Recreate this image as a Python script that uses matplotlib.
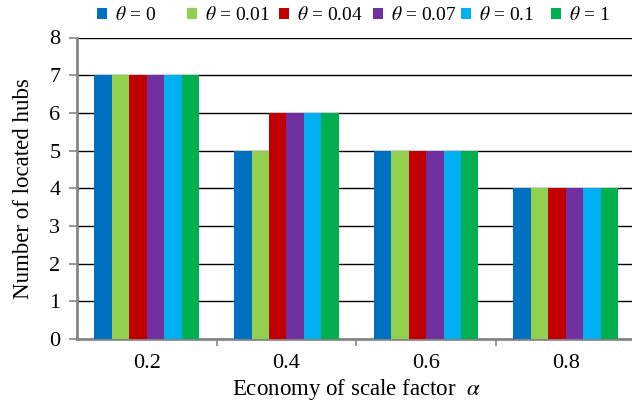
import numpy as np
import matplotlib.pyplot as plt
from matplotlib.patches import Patch

plt.rcParams['font.family'] = 'Liberation Serif'
plt.rcParams['mathtext.fontset'] = 'stix'

alpha_labels = ["0.2", "0.4", "0.6", "0.8"]
theta_labels = [r"$\theta$ = 0", r"$\theta$ = 0.01", r"$\theta$ = 0.04",
                r"$\theta$ = 0.07", r"$\theta$ = 0.1", r"$\theta$ = 1"]
hubs_theta_0 = [7, 5, 5, 4]
hubs_theta_001 = [7, 5, 5, 4]
hubs_theta_004 = [7, 6, 5, 4]
hubs_theta_007 = [7, 6, 5, 4]
hubs_theta_01 = [7, 6, 5, 4]
hubs_theta_1 = [7, 6, 5, 4]
series = [hubs_theta_0, hubs_theta_001, hubs_theta_004,
          hubs_theta_007, hubs_theta_01, hubs_theta_1]
colors = ["#0070C0", "#92D050", "#C00000", "#7030A0", "#00B0F0", "#00B050"]

W, H = 632, 405
fig = plt.figure(figsize=(W / 100, H / 100), dpi=100)
ax = fig.add_axes([77 / W, (H - 339) / H, (635.5 - 77) / W, (339 - 37.5) / H])

x = np.arange(len(alpha_labels))
bw = 0.125
for i, (vals, c) in enumerate(zip(series, colors)):
    ax.bar(x + (i - 2.5) * bw, vals, width=bw, color=c, zorder=3)

ax.set_xlim(-0.5, 3.5)
ax.set_ylim(0, 8)
ax.set_yticks(range(9))
ax.yaxis.grid(True, color="black", linewidth=1.0, zorder=0)
ax.set_axisbelow(True)

# category labels sit between boundary ticks
ax.set_xticks(np.arange(0.5, 3.5, 1.0))
ax.set_xticklabels([])
ax.set_xticks(x, minor=True)
ax.set_xticklabels(alpha_labels, minor=True)
ax.tick_params(axis="x", which="minor", length=0, pad=11, labelsize=16)
ax.tick_params(axis="x", which="major", length=5, width=1.2, color="#868686")
ax.tick_params(axis="y", length=6, width=1.2, color="#868686", labelsize=16, pad=6)

for s in ["top", "right"]:
    ax.spines[s].set_visible(False)
for s in ["left", "bottom"]:
    ax.spines[s].set_color("#868686")
    ax.spines[s].set_linewidth(2)

ax.set_ylabel("Number of located hubs", fontsize=16.5, labelpad=11)
ax.set_xlabel(r"Economy of scale factor  $\alpha$", fontsize=16.5, labelpad=3)

# one legend entry per theta, spaced along the top edge
legend_x = [97, 187, 279, 373, 461, 551]
for lx, lab, c in zip(legend_x, theta_labels, colors):
    fig.legend([Patch(facecolor=c)], [lab], loc="center left", frameon=False,
               bbox_to_anchor=(lx / W, 1 - 15.5 / H), fontsize=14,
               handlelength=0.5, handleheight=0.5, handletextpad=0.45,
               borderaxespad=0, borderpad=0)

fig.savefig("out.png", dpi=100)
